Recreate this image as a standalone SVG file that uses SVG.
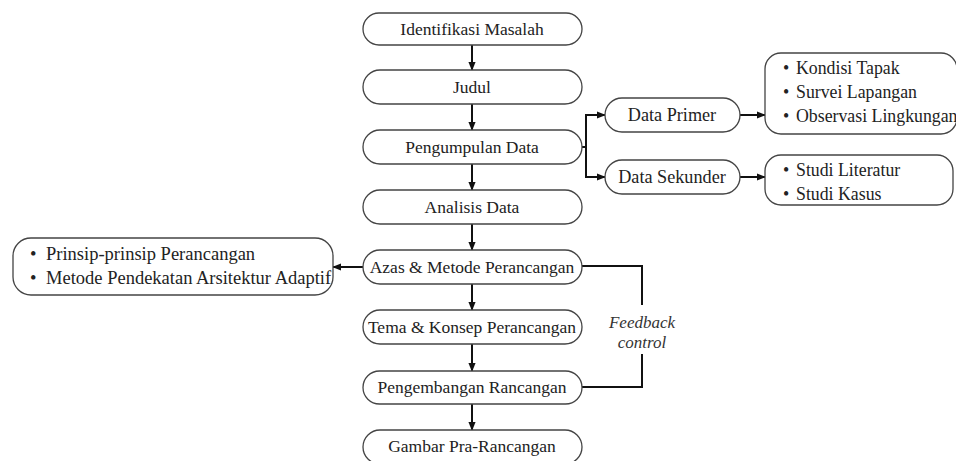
<svg xmlns="http://www.w3.org/2000/svg" width="956" height="461" viewBox="0 0 956 461">
<defs>
<style>
.box{fill:#fff;stroke:#444;stroke-width:1.3}
text{font-family:'Liberation Serif','Times New Roman',serif;font-size:17.5px;fill:#222;dominant-baseline:central}
.t{text-anchor:middle}
.d{font-size:18.2px}
.r{font-size:17.8px}
.l{font-size:18.5px}
.i{font-size:17px;fill:#333;font-style:italic;text-anchor:middle}
.c{fill:none;stroke:#111;stroke-width:2}
</style>
<marker id="a" viewBox="0 0 10 10" refX="9" refY="5" markerWidth="9" markerHeight="9" orient="auto" markerUnits="userSpaceOnUse">
<path d="M0,1 L10,5 L0,9 z" fill="#111"/>
</marker>
</defs>
<rect width="956" height="461" fill="#fff"/>

<g id="connectors">
<path class="c" d="M472,45 V70" marker-end="url(#a)"/>
<path class="c" d="M472,104 V130" marker-end="url(#a)"/>
<path class="c" d="M472,164 V190" marker-end="url(#a)"/>
<path class="c" d="M472,224 V250" marker-end="url(#a)"/>
<path class="c" d="M472,284 V310" marker-end="url(#a)"/>
<path class="c" d="M472,344 V371" marker-end="url(#a)"/>
<path class="c" d="M472,404 V430" marker-end="url(#a)"/>
<path class="c" d="M582,147 H586"/>
<path class="c" d="M586,115 V177"/>
<path class="c" d="M585,115 H605" marker-end="url(#a)"/>
<path class="c" d="M585,177 H605" marker-end="url(#a)"/>
<path class="c" d="M740,115 H765" marker-end="url(#a)"/>
<path class="c" d="M740,177 H765" marker-end="url(#a)"/>
<path class="c" d="M363,267 H333" marker-end="url(#a)"/>
<path class="c" d="M582,266 H642 V305"/>
<path class="c" d="M642,354 V387 H582"/>
</g>

<g id="n1"><rect class="box" x="363" y="13" width="219" height="32" rx="16"/><text class="t" x="472" y="29">Identifikasi Masalah</text></g>
<g id="n2"><rect class="box" x="363" y="70" width="219" height="34" rx="17"/><text class="t" x="472" y="87">Judul</text></g>
<g id="n3"><rect class="box" x="363" y="130" width="219" height="34" rx="17"/><text class="t" x="472" y="147">Pengumpulan Data</text></g>
<g id="n4"><rect class="box" x="363" y="190" width="219" height="34" rx="17"/><text class="t" x="472" y="207">Analisis Data</text></g>
<g id="n5"><rect class="box" x="363" y="250" width="219" height="34" rx="17"/><text class="t" x="472" y="267">Azas &amp; Metode Perancangan</text></g>
<g id="n6"><rect class="box" x="363" y="310" width="219" height="34" rx="17"/><text class="t" x="472" y="327">Tema &amp; Konsep Perancangan</text></g>
<g id="n7"><rect class="box" x="363" y="371" width="219" height="33" rx="16.5"/><text class="t" x="472" y="387">Pengembangan Rancangan</text></g>
<g id="n8"><rect class="box" x="363" y="430" width="219" height="34" rx="17"/><text class="t" x="472" y="446">Gambar Pra-Rancangan</text></g>

<g id="primer"><rect class="box" x="605" y="98" width="135" height="34" rx="17"/><text class="t d" x="672" y="115">Data Primer</text></g>
<g id="sekunder"><rect class="box" x="605" y="160" width="135" height="34" rx="17"/><text class="t d" x="672" y="177">Data Sekunder</text></g>

<g id="primer-list"><rect class="box" x="765" y="53" width="192" height="81" rx="16"/>
<text class="r" x="783" y="68">•</text><text class="r" x="796" y="68">Kondisi Tapak</text>
<text class="r" x="783" y="92">•</text><text class="r" x="796" y="92">Survei Lapangan</text>
<text class="r" x="783" y="116">•</text><text class="r" x="796" y="116">Observasi Lingkungan</text>
</g>
<g id="sekunder-list"><rect class="box" x="765" y="155" width="188" height="50" rx="16"/>
<text class="r" x="783" y="170">•</text><text class="r" x="796" y="170">Studi Literatur</text>
<text class="r" x="783" y="194">•</text><text class="r" x="796" y="194">Studi Kasus</text>
</g>

<g id="azas-list"><rect class="box" x="13" y="238" width="320" height="57" rx="18"/>
<text class="l" x="30" y="254">•</text><text class="l" x="46" y="254">Prinsip-prinsip Perancangan</text>
<text class="l" x="30" y="278">•</text><text class="l" x="46" y="278">Metode Pendekatan Arsitektur Adaptif</text>
</g>

<g id="feedback-label"><text class="i" x="642" y="322">Feedback</text><text class="i" x="642" y="342">control</text></g>
</svg>
